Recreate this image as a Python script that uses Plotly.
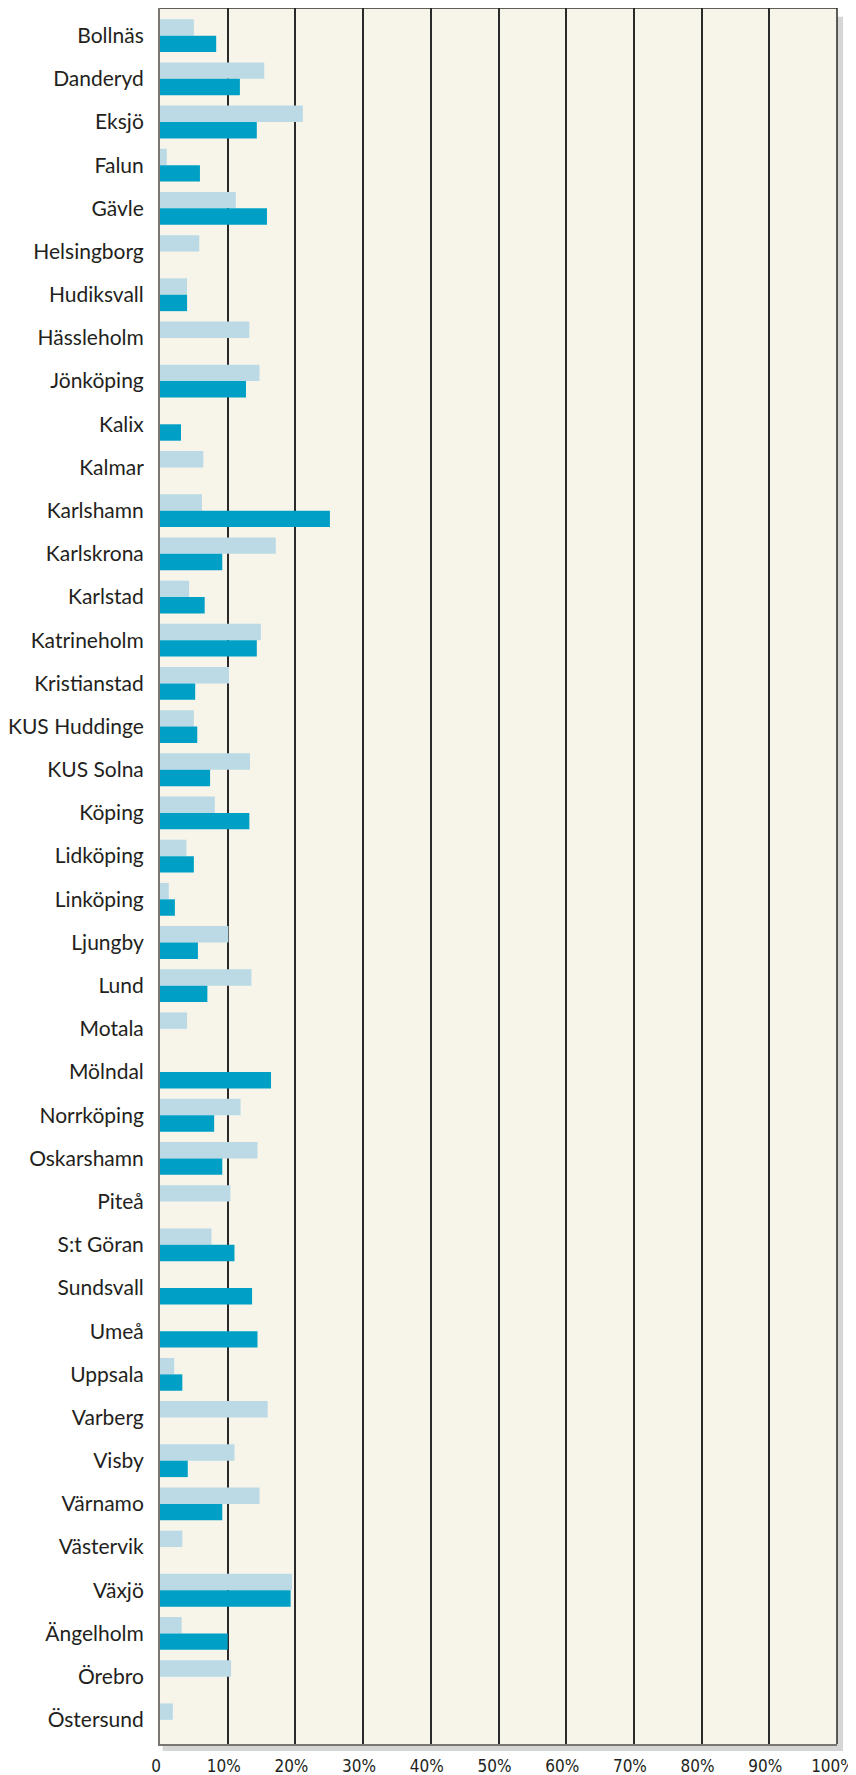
import plotly.graph_objects as go

# data (percent)
sjukhus = [
    "Bollnäs", "Danderyd", "Eksjö", "Falun", "Gävle", "Helsingborg", "Hudiksvall",
    "Hässleholm", "Jönköping", "Kalix", "Kalmar", "Karlshamn", "Karlskrona",
    "Karlstad", "Katrineholm", "Kristianstad", "KUS Huddinge", "KUS Solna",
    "Köping", "Lidköping", "Linköping", "Ljungby", "Lund", "Motala", "Mölndal",
    "Norrköping", "Oskarshamn", "Piteå", "S:t Göran", "Sundsvall", "Umeå",
    "Uppsala", "Varberg", "Visby", "Värnamo", "Västervik", "Växjö", "Ängelholm",
    "Örebro", "Östersund",
]
ljus = [
    5.0, 15.4, 21.1, 1.0, 11.2, 5.8, 4.0,
    13.2, 14.7, None, 6.4, 6.2, 17.1,
    4.3, 14.9, 10.2, 5.0, 13.3,
    8.1, 3.9, 1.3, 10.1, 13.5, 4.0, None,
    11.9, 14.4, 10.4, 7.6, None, None,
    2.1, 15.9, 11.0, 14.7, 3.3, 19.5, 3.2,
    10.5, 1.9,
]
mork = [
    8.3, 11.8, 14.3, 5.9, 15.8, None, 4.0,
    None, 12.7, 3.1, None, 25.1, 9.2,
    6.6, 14.3, 5.2, 5.5, 7.4,
    13.2, 5.0, 2.2, 5.6, 7.0, None, 16.4,
    8.0, 9.2, None, 11.0, 13.6, 14.4,
    3.3, None, 4.1, 9.2, None, 19.3, 10.0,
    None, None,
]
tick_vals = [0, 10, 20, 30, 40, 50, 60, 70, 80, 90, 100]
tick_text = ["0", "10%", "20%", "30%", "40%", "50%", "60%", "70%", "80%", "90%", "100%"]

fig = go.Figure()
fig.add_trace(go.Bar(y=sjukhus, x=ljus, orientation="h", marker_color="#BBDAE6",
                     marker_line_width=0, hoverinfo="x+y"))
fig.add_trace(go.Bar(y=sjukhus, x=mork, orientation="h", marker_color="#00A0C6",
                     marker_line_width=0, hoverinfo="x+y"))

# shadow + background of the plot area
fig.add_shape(type="rect", xref="x domain", yref="y domain", x0=0.004, x1=1.009,
              y0=-0.004, y1=0.995, fillcolor="#D6D6D6", line_width=0, layer="below")
fig.add_shape(type="rect", xref="x domain", yref="y domain", x0=0, x1=1,
              y0=0, y1=1, fillcolor="#F7F5EA", line_width=0, layer="below")
# top and right border
fig.add_shape(type="line", xref="x domain", yref="y domain", x0=0, x1=1, y0=1, y1=1,
              line=dict(color="#2A2A2A", width=1.5))
fig.add_shape(type="line", xref="x domain", yref="y domain", x0=1, x1=1, y0=0, y1=1,
              line=dict(color="#2A2A2A", width=1.5))

# page body adds 8px on top/left, sizes allow for that
fig.update_layout(
    width=848, height=1767,
    margin=dict(l=152, r=19, t=0, b=31),
    paper_bgcolor="white", plot_bgcolor="rgba(0,0,0,0)",
    barmode="group", bargap=0.24, bargroupgap=0,
    showlegend=False,
    font=dict(family="Lato, Open Sans, sans-serif", color="#231F20"),
)
fig.update_xaxes(
    range=[0, 100], tickvals=tick_vals, ticktext=tick_text,
    showgrid=True, gridcolor="#2A2A2A", gridwidth=1.5,
    showline=True, linecolor="#7A7772", linewidth=2,
    zeroline=False, ticks="outside", ticklen=6, tickcolor="rgba(0,0,0,0)",
    tickfont=dict(family="Liberation Sans Narrow, DejaVu Sans Condensed, sans-serif",
                  size=17, color="#231F20"),
    ticklabelshift=-4,  # keeps "100%" inside the page
    ticklabeloverflow="allow", automargin=False,
    fixedrange=True,
)
fig.update_yaxes(
    categoryorder="array", categoryarray=sjukhus,
    range=[39.56, -0.64],
    showgrid=False, showline=True, linecolor="#7A7772", linewidth=2,
    ticks="outside", ticklen=10, tickcolor="rgba(0,0,0,0)",
    tickfont=dict(size=21, color="#231F20"),
    automargin=False,
    fixedrange=True,
)

fig.write_html("out.html")
